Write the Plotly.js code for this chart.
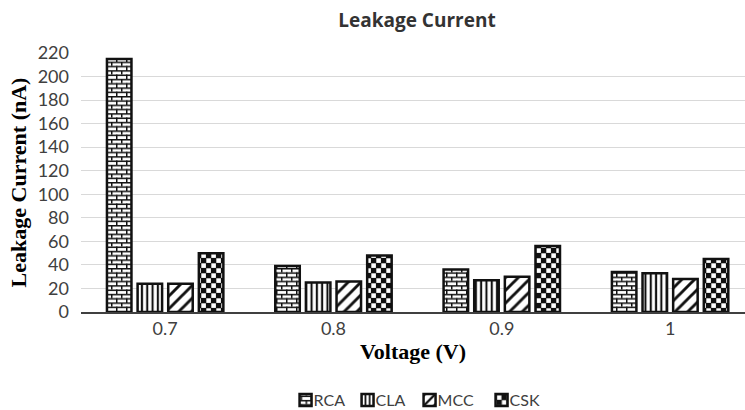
<!DOCTYPE html>
<html>
<head>
<meta charset="utf-8">
<script src="https://cdn.plot.ly/plotly-3.0.1.min.js"></script>
<style>
  html, body { margin: 0; padding: 0; background: #fff; }
  #chart { width: 745px; height: 410px; }
</style>
</head>
<body>
<div id="chart"></div>
<script>
// Leakage current (nA) of four adder designs at each supply voltage
const voltages = ['0.7', '0.8', '0.9', '1'];
const seriesNames = ['RCA', 'CLA', 'MCC', 'CSK'];
const rca = [215, 39, 36, 34];
const cla = [24, 25, 27, 33];
const mcc = [24, 26, 30, 28];
const csk = [50, 48, 56, 45];
const yTicks = [0, 20, 40, 60, 80, 100, 120, 140, 160, 180, 200, 220];

const INK = '#111111';
const TEXT = '#404040';
const sansFont = 'Lato, "Open Sans", sans-serif';
const titleFont = '"Open Sans", Lato, sans-serif';
const serifFont = '"Liberation Serif", "DejaVu Serif", serif';

const outline = { color: INK, width: 2.5 };

// Built-in patterns for the line fills; brick and checkerboard are swapped in after drawing
const styles = [
  { color: 'white', line: outline, pattern: { shape: '+', fgcolor: INK, bgcolor: 'white', size: 8, solidity: 0.3, fillmode: 'replace' } },
  { color: 'white', line: outline, pattern: { shape: '|', fgcolor: INK, bgcolor: 'white', size: 5.3, solidity: 0.4, fillmode: 'replace' } },
  { color: 'white', line: outline, pattern: { shape: '/', fgcolor: INK, bgcolor: 'white', size: 9, solidity: 0.32, fillmode: 'replace' } },
  { color: INK, line: outline, pattern: { shape: 'x', fgcolor: 'white', bgcolor: INK, size: 8, solidity: 0.3, fillmode: 'replace' } }
];
const legendWidths = [17, 17, 27, 30];
const values = [rca, cla, mcc, csk];

const traces = seriesNames.map((name, i) => ({
  type: 'bar',
  name: name,
  x: voltages,
  y: values[i],
  marker: styles[i],
  legendwidth: legendWidths[i],
  hoverinfo: 'x+y+name'
}));

const layout = {
  width: 745,
  height: 410,
  margin: { l: 81.4, r: 0, t: 53, b: 98, autoexpand: false },
  paper_bgcolor: 'white',
  plot_bgcolor: 'white',
  barmode: 'group',
  bargap: 0.272,
  bargroupgap: 0.2,
  title: {
    text: 'Leakage Current',
    font: { family: titleFont, size: 19, color: '#333333', weight: 'bold' },
    xref: 'paper', x: 0.506, xanchor: 'center',
    yref: 'container', y: 1 - 20 / 410, yanchor: 'middle'
  },
  xaxis: {
    type: 'category',
    range: [-0.5, 3.445],
    showgrid: false,
    showline: true,
    linecolor: '#404040',
    linewidth: 1.5,
    ticks: '',
    ticklabelstandoff: 0,
    tickfont: { family: sansFont, size: 18, color: TEXT },
    title: {
      text: 'Voltage (V)',
      font: { family: serifFont, size: 22, color: '#000', weight: 'bold' },
      standoff: 5
    },
    fixedrange: true
  },
  yaxis: {
    range: [0, 220],
    tickvals: yTicks,
    ticktext: yTicks.map(String),
    showgrid: true,
    gridcolor: '#d9d9d9',
    gridwidth: 1,
    zeroline: false,
    showline: false,
    ticks: '',
    ticklabelstandoff: 11,
    tickfont: { family: sansFont, size: 18, color: TEXT },
    title: {
      text: 'Leakage Current (nA)',
      font: { family: serifFont, size: 22, color: '#000', weight: 'bold' },
      standoff: 4
    },
    fixedrange: true
  },
  legend: {
    orientation: 'h',
    x: 0.29, xanchor: 'left',
    yref: 'container', y: 1 - 400 / 410, yanchor: 'middle',
    font: { family: sansFont, size: 16, color: TEXT },
    itemwidth: 30,
    traceorder: 'normal',
    itemclick: false,
    itemdoubleclick: false
  },
  showlegend: true
};

const SVGNS = 'http://www.w3.org/2000/svg';

function el(tag, attrs) {
  const node = document.createElementNS(SVGNS, tag);
  Object.keys(attrs).forEach(k => node.setAttribute(k, attrs[k]));
  return node;
}

// Brick and checkerboard tiles used by the RCA and CSK fills
function addTiles(svg) {
  const defs = el('defs', {});
  const brick = el('pattern', { id: 'tile-brick', patternUnits: 'userSpaceOnUse', width: 10, height: 8.6 });
  brick.appendChild(el('rect', { x: 0, y: 0, width: 10, height: 8.6, fill: 'white' }));
  brick.appendChild(el('rect', { x: 0, y: 0, width: 10, height: 1.5, fill: INK }));
  brick.appendChild(el('rect', { x: 0, y: 4.3, width: 10, height: 1.5, fill: INK }));
  brick.appendChild(el('rect', { x: 0, y: 0, width: 1.5, height: 4.3, fill: INK }));
  brick.appendChild(el('rect', { x: 5, y: 4.3, width: 1.5, height: 4.3, fill: INK }));
  defs.appendChild(brick);

  const checker = el('pattern', { id: 'tile-checker', patternUnits: 'userSpaceOnUse', width: 10, height: 10 });
  checker.appendChild(el('rect', { x: 0, y: 0, width: 10, height: 10, fill: INK }));
  checker.appendChild(el('rect', { x: 0.3, y: 0.3, width: 4.6, height: 4.6, fill: 'white' }));
  checker.appendChild(el('rect', { x: 5.3, y: 5.3, width: 4.6, height: 4.6, fill: 'white' }));
  defs.appendChild(checker);
  svg.insertBefore(defs, svg.firstChild);
}

function restyleFills(gd) {
  const svg = gd.querySelector('.main-svg');
  addTiles(svg);
  const tiles = { 0: 'url(#tile-brick)', 3: 'url(#tile-checker)' };
  const barGroups = gd.querySelectorAll('.barlayer .trace');
  const legendItems = gd.querySelectorAll('.legend .traces');
  Object.keys(tiles).forEach(k => {
    const i = Number(k);
    if (barGroups[i]) {
      barGroups[i].querySelectorAll('.point path').forEach(p => { p.style.fill = tiles[k]; });
    }
    if (legendItems[i]) {
      legendItems[i].querySelectorAll('.legendpoints path').forEach(p => { p.style.fill = tiles[k]; });
    }
  });
  // keys sit right next to their labels
  legendItems.forEach(item => {
    const pts = item.querySelector('.legendpoints');
    if (pts) pts.setAttribute('transform', 'translate(12,0)');
  });
}

Plotly.newPlot('chart', traces, layout, { displayModeBar: false, staticPlot: true })
  .then(restyleFills);
</script>
</body>
</html>
